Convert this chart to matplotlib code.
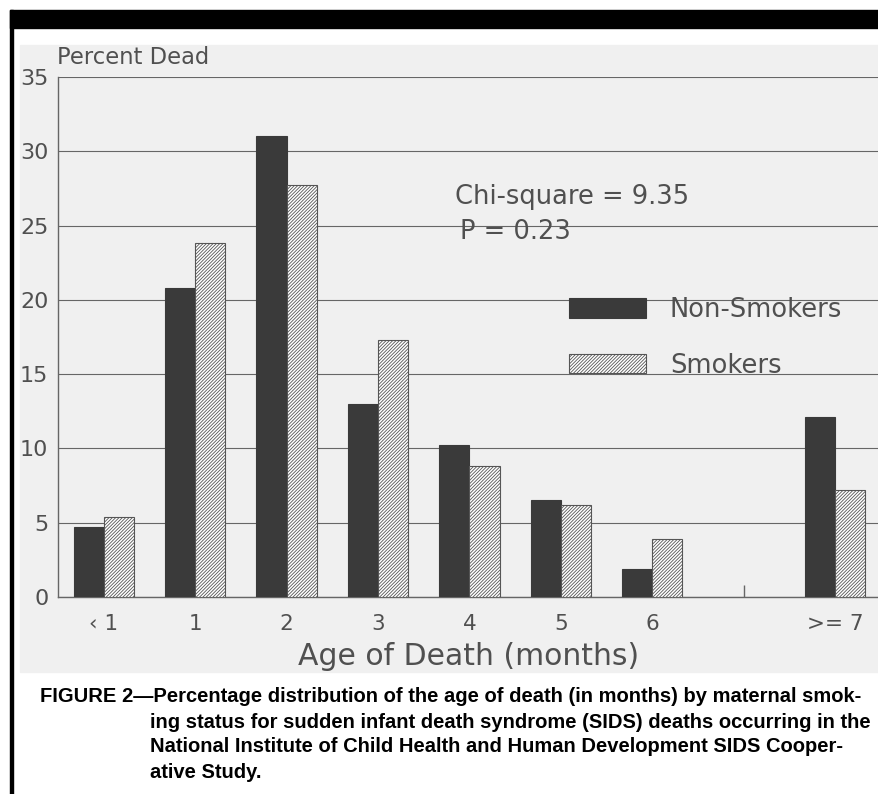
import matplotlib.pyplot as plt
import numpy as np
from matplotlib.patches import Rectangle

plt.rcParams['font.family'] = ['DejaVu Sans']
plt.rcParams['hatch.linewidth'] = 0.6

# data
ages = ["‹ 1", "1", "2", "3", "4", "5", "6", "", ">= 7"]
non_smokers = [4.7, 20.8, 31.0, 13.0, 10.2, 6.5, 1.9, 0, 12.1]
smokers = [5.4, 23.8, 27.7, 17.3, 8.8, 6.2, 3.9, 0, 7.2]

W, H = 879, 794
fig = plt.figure(figsize=(W / 100, H / 100), dpi=100)
gray_txt = '#505050'

def px(x, y):
    return x / W, 1 - y / H

# page decorations: black band, left rule, grey chart panel
for (x0, y1, wd, ht, c) in [(10, 28, 870, 18, 'black'),
                            (10, 794, 3, 784, 'black'),
                            (20, 672, 860, 627, '#f0f0f0')]:
    fig.patches.append(Rectangle(px(x0, y1), wd / W, ht / H, transform=fig.transFigure,
                                 color=c, zorder=-5))

ax = fig.add_axes([58 / W, 1 - 597 / H, 1 - 58 / W, 520 / H])
ax.set_facecolor('none')

x = np.arange(len(ages))
w = 0.33
keep = [i for i in x if ages[i] != ""]
b1 = ax.bar(x[keep] - w / 2, np.array(non_smokers)[keep], w, color='#3a3a3a',
            edgecolor='#3a3a3a', lw=0.8, zorder=3, label='Non-Smokers')
b2 = ax.bar(x[keep] + w / 2, np.array(smokers)[keep], w, color='white',
            edgecolor='#555555', hatch='//////////', lw=0.8, zorder=3, label='Smokers')

ax.set_xlim(-0.5, 8.48)
ax.set_ylim(0, 35)
ax.set_yticks(range(0, 36, 5))
ax.set_xticks(x[keep])
ax.set_xticklabels([ages[i] for i in keep])
ax.set_xticks([7], minor=True)
ax.tick_params(axis='x', which='major', length=0, pad=12, labelsize=15.5, labelcolor=gray_txt)
ax.tick_params(axis='x', which='minor', length=9, direction='in', color='#666666', width=1)
ax.tick_params(axis='y', length=0, pad=7, labelsize=16, labelcolor=gray_txt)
ax.grid(axis='y', color='#666666', lw=0.8, zorder=1)
for s in ['top', 'right']:
    ax.spines[s].set_visible(False)
for s in ['left', 'bottom']:
    ax.spines[s].set_color('#666666')
    ax.spines[s].set_linewidth(1.0)

ax.set_xlabel("Age of Death (months)", fontsize=21.5, color=gray_txt, labelpad=6)

fig.text(*px(57, 57), "Percent Dead", fontsize=16.3, color=gray_txt, va='center')
fig.text(*px(455, 197), "Chi-square = 9.35", fontsize=18.5, color=gray_txt, va='center')
fig.text(*px(460, 232), "P = 0.23", fontsize=18.5, color=gray_txt, va='center')

ax.legend(handles=[b1, b2], loc='upper left', bbox_to_anchor=px(569, 297),
          bbox_transform=fig.transFigure, frameon=False, fontsize=18.5,
          labelcolor=gray_txt, handlelength=3.0, handleheight=0.78,
          handletextpad=0.93, labelspacing=1.15, borderpad=0, borderaxespad=0)

cap = dict(fontsize=14.5, fontweight='bold', color='black', va='center',
           family=['Liberation Sans', 'DejaVu Sans'])
fig.text(*px(40, 697), "FIGURE 2\u2014Percentage distribution of the age of death (in months) by maternal smok-", **cap)
fig.text(*px(150, 722), "ing status for sudden infant death syndrome (SIDS) deaths occurring in the", **cap)
fig.text(*px(150, 747), "National Institute of Child Health and Human Development SIDS Cooper-", **cap)
fig.text(*px(150, 772), "ative Study.", **cap)

fig.savefig('out.png', dpi=100)
